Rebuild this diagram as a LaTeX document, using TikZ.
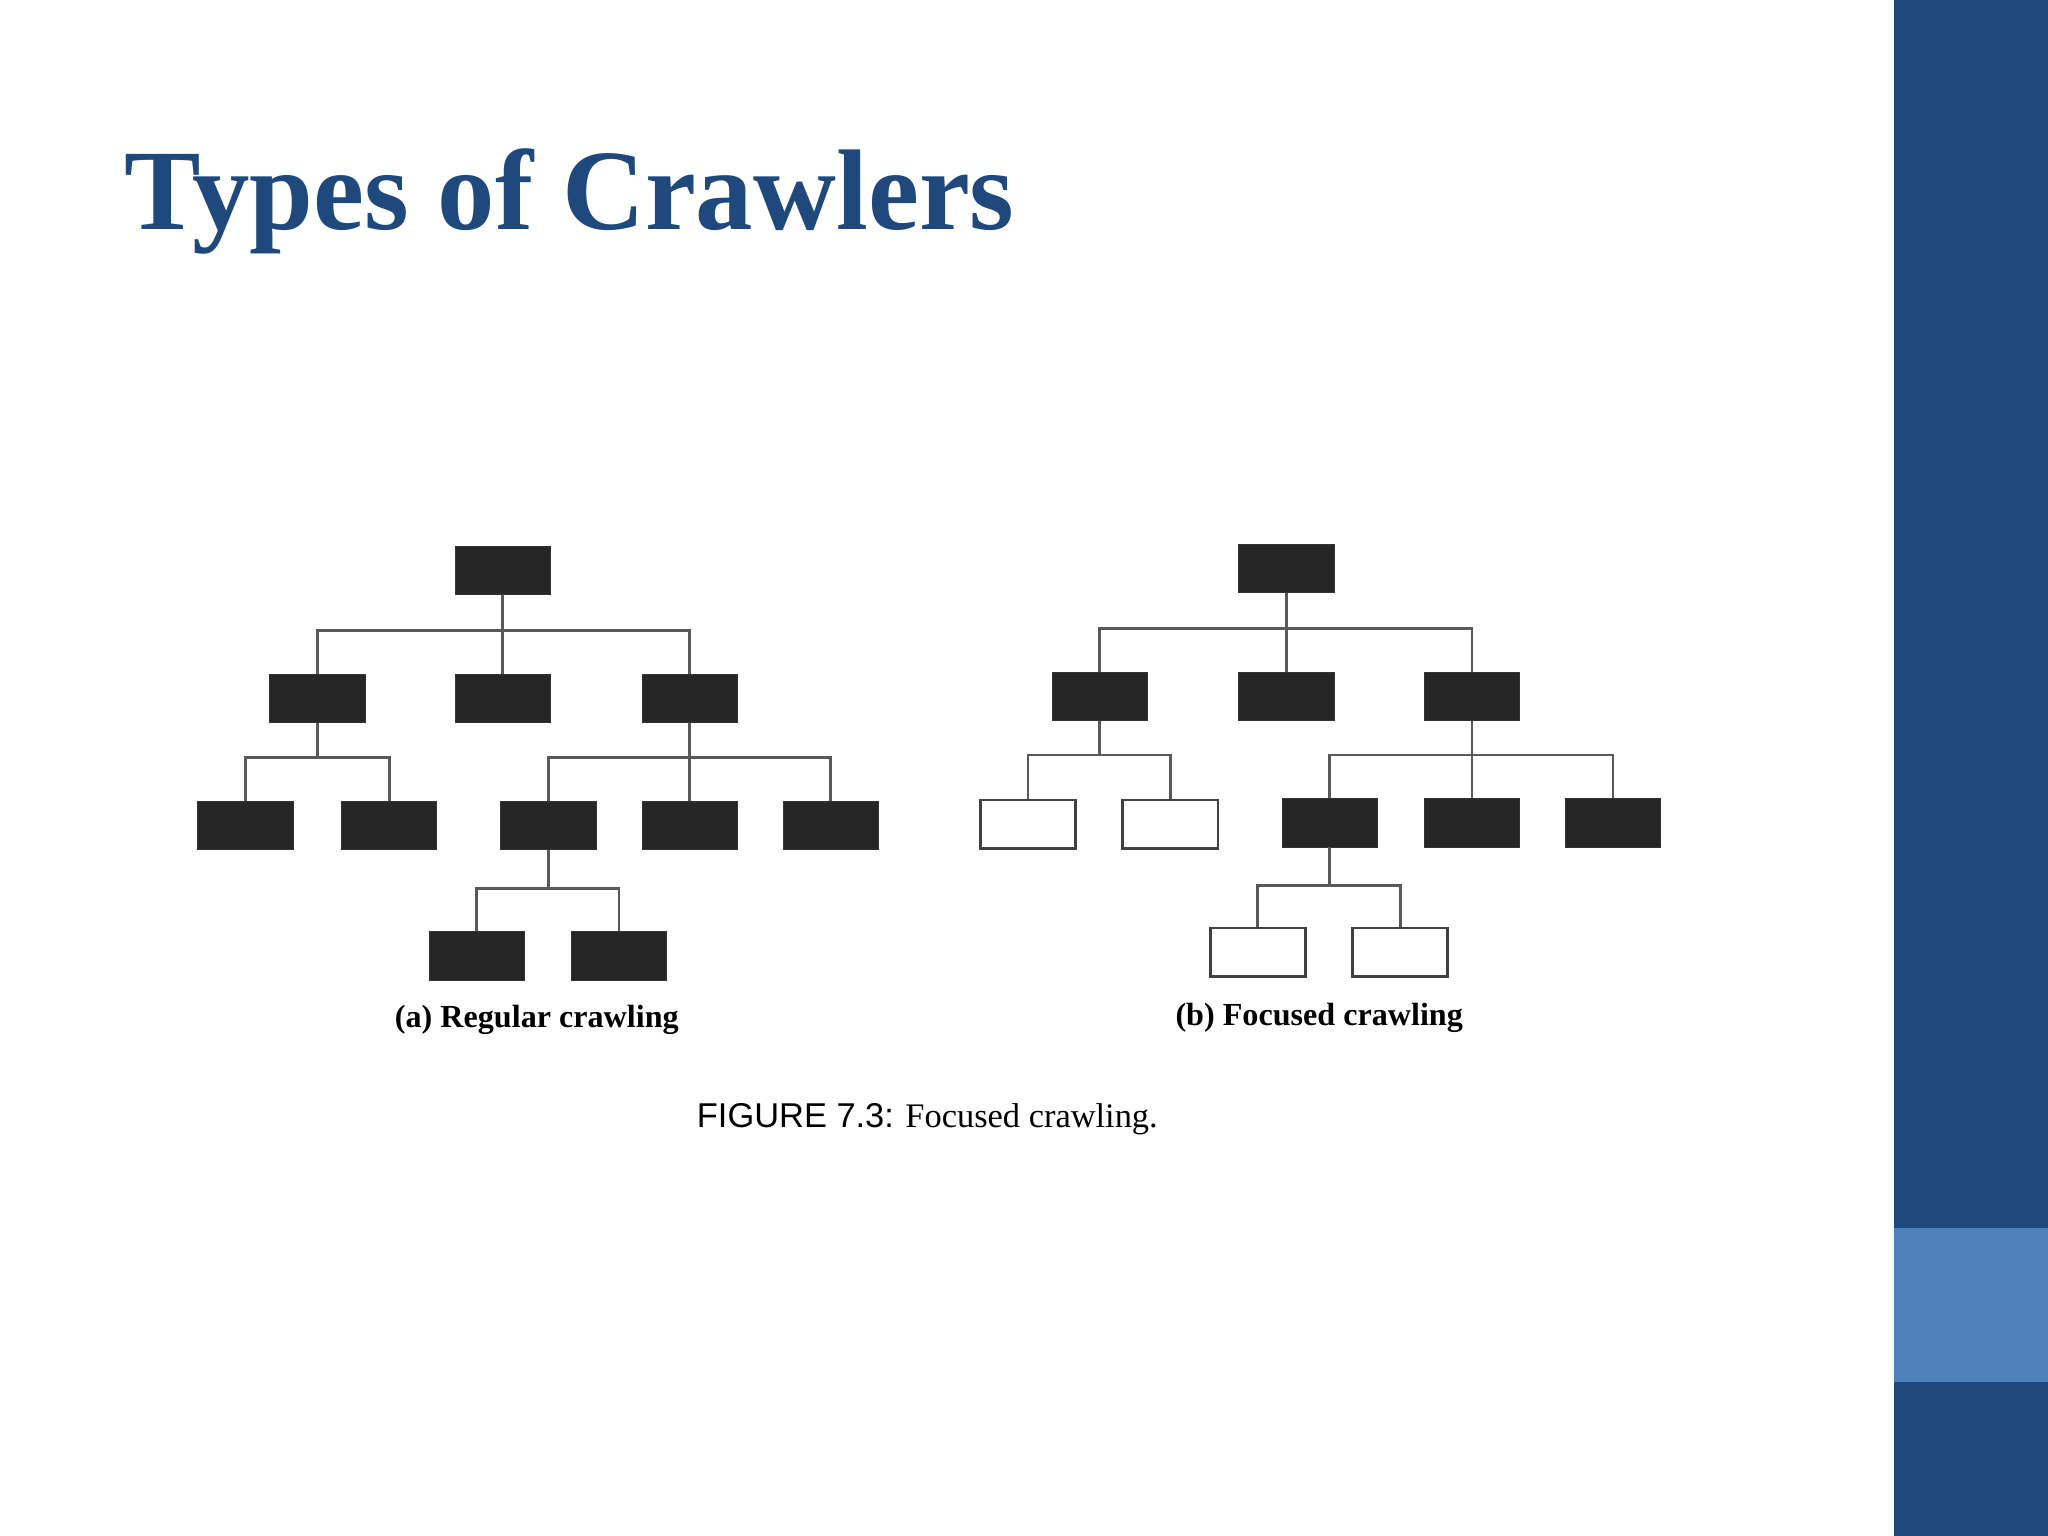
\documentclass[tikz,border=0pt]{standalone}
\usepackage{fontspec}
\setmainfont{Liberation Serif}
\newfontfamily\capsans{Liberation Sans}
\definecolor{tblue}{HTML}{1F497D}
\definecolor{lblue}{HTML}{4F81BD}
\begin{document}
\begin{tikzpicture}[x=0.02cm,y=-0.02cm,
  full/.style={draw=black!80,fill=black!85,minimum width=1.46cm,minimum height=0.74cm,inner sep=0},
  empty/.style={draw=black!75,fill=white,line width=1.2pt,minimum width=1.46cm,minimum height=0.74cm,inner sep=0},
  conn/.style={draw=black!65,line width=1.2pt}]
\useasboundingbox (0,0) rectangle (1568,1176);
\fill[white] (0,0) rectangle (1568,1176);
\fill[tblue] (1450,0) rectangle (1568,1176);
\fill[lblue] (1450,940) rectangle (1568,1058);
\node[anchor=base west,inner sep=0,text=tblue,font=\fontsize{50}{56}\selectfont\bfseries] (title) at (95,176) {Types of Crawlers};
% tree a
\node[full] (a0) at (385,437) {};
\node[full] (a1) at (243,535) {};
\node[full] (a2) at (385,535) {};
\node[full] (a3) at (528,535) {};
\node[full] (a4) at (188,632) {};
\node[full] (a5) at (298,632) {};
\node[full] (a6) at (420,632) {};
\node[full] (a7) at (528,632) {};
\node[full] (a8) at (636,632) {};
\node[full] (a9) at (365,732) {};
\node[full] (a10) at (474,732) {};
\draw[conn] (a0.south) -- (a2.north);
\draw[conn] (a1.north) |- (385,483) -| (a3.north);
\draw[conn] (a1.south) -- (243,580);
\draw[conn] (a4.north) |- (243,580) -| (a5.north);
\draw[conn] (a3.south) -- (528,580);
\draw[conn] (a6.north) |- (528,580) -| (a8.north);
\draw[conn] (a7.north) -- (528,580);
\draw[conn] (a6.south) -- (420,680);
\draw[conn] (a9.north) |- (420,680) -| (a10.north);
\node[font=\fontsize{14}{16}\selectfont\bfseries] (la) at (411,781) {(a) Regular crawling};
% tree b
\node[full] (b0) at (985,435) {};
\node[full] (b1) at (842,533) {};
\node[full] (b2) at (985,533) {};
\node[full] (b3) at (1127,533) {};
\node[empty] (b4) at (787,631) {};
\node[empty] (b5) at (896,631) {};
\node[full] (b6) at (1018,630) {};
\node[full] (b7) at (1127,630) {};
\node[full] (b8) at (1235,630) {};
\node[empty] (b9) at (963,729) {};
\node[empty] (b10) at (1072,729) {};
\draw[conn] (b0.south) -- (b2.north);
\draw[conn] (b1.north) |- (985,481) -| (b3.north);
\draw[conn] (b1.south) -- (842,578);
\draw[conn] (b4.north) |- (842,578) -| (b5.north);
\draw[conn] (b3.south) -- (1127,578);
\draw[conn] (b6.north) |- (1127,578) -| (b8.north);
\draw[conn] (b7.north) -- (1127,578);
\draw[conn] (b6.south) -- (1018,678);
\draw[conn] (b9.north) |- (1018,678) -| (b10.north);
\node[font=\fontsize{14}{16}\selectfont\bfseries] (lb) at (1010,779) {(b) Focused crawling};
\node[font=\fontsize{15}{18}\selectfont] (cap) at (710,857) {{\capsans FIGURE 7.3:} Focused crawling.};
\end{tikzpicture}
\end{document}
